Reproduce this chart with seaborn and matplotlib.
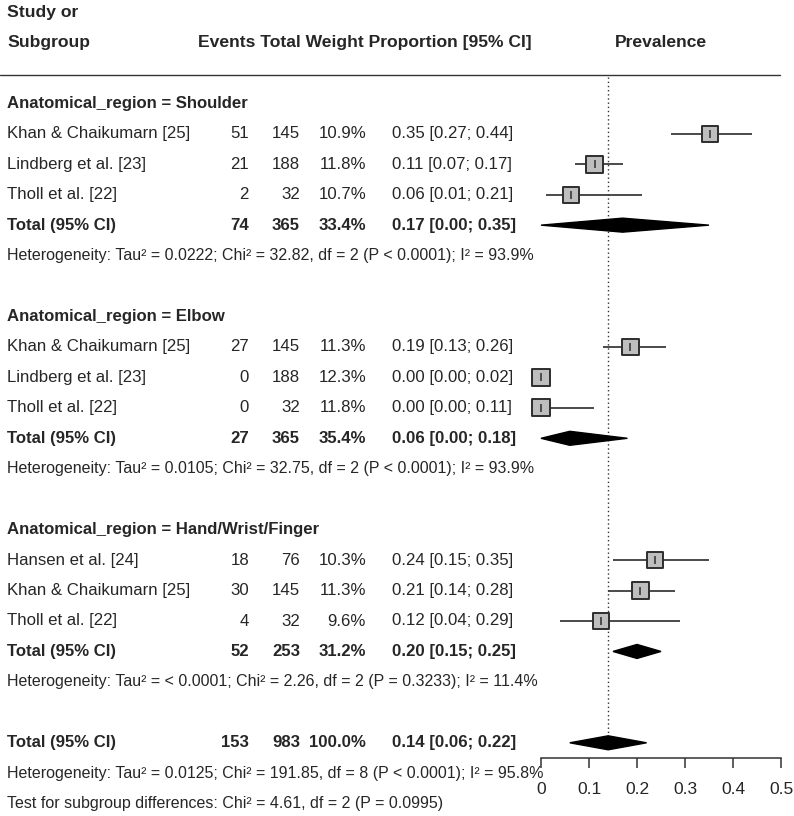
import numpy as np
import pandas as pd
import matplotlib
matplotlib.use("Agg")
import matplotlib.pyplot as plt
import matplotlib.transforms as mtransforms
from matplotlib.ticker import FuncFormatter
import seaborn as sns

# study level data
studyLabels = ["Khan & Chaikumarn [25]", "Lindberg et al. [23]", "Tholl et al. [22]",
               "Khan & Chaikumarn [25]", "Lindberg et al. [23]", "Tholl et al. [22]",
               "Hansen et al. [24]", "Khan & Chaikumarn [25]", "Tholl et al. [22]"]
studyGroup = [0, 0, 0, 1, 1, 1, 2, 2, 2]
events = [51, 21, 2, 27, 0, 0, 18, 30, 4]
totals = [145, 188, 32, 145, 188, 32, 76, 145, 32]
weights = [10.9, 11.8, 10.7, 11.3, 12.3, 11.8, 10.3, 11.3, 9.6]
proportion = [0.352, 0.112, 0.0625, 0.186, 0.0, 0.0, 0.237, 0.207, 0.125]
lowerCI = [0.27, 0.07, 0.01, 0.13, 0.00, 0.00, 0.15, 0.14, 0.04]
upperCI = [0.44, 0.17, 0.21, 0.26, 0.02, 0.11, 0.35, 0.28, 0.29]

# subgroup data
groupNames = ["Shoulder", "Elbow", "Hand/Wrist/Finger"]
groupEvents = [74, 27, 52]
groupTotals = [365, 365, 253]
groupWeights = [33.4, 35.4, 31.2]
groupEst = [0.17, 0.06, 0.20]
groupLower = [0.00, 0.00, 0.15]
groupUpper = [0.35, 0.18, 0.25]
groupTau2 = ["0.0222", "0.0105", "< 0.0001"]
groupChi2 = ["32.82", "32.75", "2.26"]
groupDf = [2, 2, 2]
groupP = ["< 0.0001", "< 0.0001", "= 0.3233"]
groupI2 = ["93.9", "93.9", "11.4"]

# overall
overallEvents = 153
overallTotal = 983
overallWeight = 100.0
overallEst = 0.14
overallLower = 0.06
overallUpper = 0.22
overallHet = "Heterogeneity: Tau² = 0.0125; Chi² = 191.85, df = 8 (P < 0.0001); I² = 95.8%"
subgroupTest = "Test for subgroup differences: Chi² = 4.61, df = 2 (P = 0.0995)"
axisTicks = [0, 0.1, 0.2, 0.3, 0.4, 0.5]

sns.set_style("white")
plt.rcParams['font.family'] = ['Liberation Sans', 'DejaVu Sans']

figW, figH = 794, 816
fig = plt.figure(figsize=(figW / 100, figH / 100), dpi=100)
ax = fig.add_axes([0, 0, 1, 1])

# layout: one text row = rowPx pixels, forest scale pxPerUnit pixels per unit
rowPx = 30.45
topPx = 12
zeroPx = 541
pxPerUnit = 480

# assign rows
studyRows = []
for g in range(3):
    base = 3 + 7 * g
    studyRows += [base + 1, base + 2, base + 3]
headingRows = [3 + 7 * g for g in range(3)]
totalRows = [h + 4 for h in headingRows]
hetRows = [h + 5 for h in headingRows]
overallRow = 24
axisRow = 24.5

trans = mtransforms.blended_transform_factory(ax.transAxes, ax.transData)
xName = 7 / figW
xEvents = 249 / figW
xTotal = 300 / figW
xWeight = 366 / figW
xProp = 392 / figW
mainSize = 12.1
headSize = 12.6
hetSize = 11.5

# header
ax.text(xName, 0, "Study or", transform=trans, fontsize=headSize, fontweight='bold', va='center')
ax.text(xName, 1, "Subgroup", transform=trans, fontsize=headSize, fontweight='bold', va='center')
ax.text(198 / figW, 1, "Events Total Weight Proportion [95% CI]", transform=trans,
        fontsize=headSize, fontweight='bold', va='center')
ax.text(0.25, 1, "Prevalence", fontsize=headSize, fontweight='bold', va='center', ha='center')
ax.axhline(2.07, xmin=0, xmax=780 / figW, color='#333333', lw=1)

# study rows text
for i, lab in enumerate(studyLabels):
    r = studyRows[i]
    ax.text(xName, r, lab, transform=trans, fontsize=mainSize, va='center')
    ax.text(xEvents, r, f"{events[i]}", transform=trans, fontsize=mainSize, va='center', ha='right')
    ax.text(xTotal, r, f"{totals[i]}", transform=trans, fontsize=mainSize, va='center', ha='right')
    ax.text(xWeight, r, f"{weights[i]:.1f}%", transform=trans, fontsize=mainSize, va='center', ha='right')
    ax.text(xProp, r, f"{proportion[i]:.2f} [{lowerCI[i]:.2f}; {upperCI[i]:.2f}]", transform=trans,
            fontsize=mainSize, va='center')

# subgroup text
for g, name in enumerate(groupNames):
    ax.text(xName, headingRows[g], f"Anatomical_region = {name}", transform=trans,
            fontsize=mainSize, fontweight='bold', va='center')
    r = totalRows[g]
    ax.text(xName, r, "Total (95% CI)", transform=trans, fontsize=mainSize, fontweight='bold', va='center')
    ax.text(xEvents, r, f"{groupEvents[g]}", transform=trans, fontsize=mainSize, fontweight='bold',
            va='center', ha='right')
    ax.text(xTotal, r, f"{groupTotals[g]}", transform=trans, fontsize=mainSize, fontweight='bold',
            va='center', ha='right')
    ax.text(xWeight, r, f"{groupWeights[g]:.1f}%", transform=trans, fontsize=mainSize, fontweight='bold',
            va='center', ha='right')
    ax.text(xProp, r, f"{groupEst[g]:.2f} [{groupLower[g]:.2f}; {groupUpper[g]:.2f}]", transform=trans,
            fontsize=mainSize, fontweight='bold', va='center')
    het = (f"Heterogeneity: Tau² = {groupTau2[g]}; Chi² = {groupChi2[g]}, df = {groupDf[g]} "
           f"(P {groupP[g]}); I² = {groupI2[g]}%")
    ax.text(xName, hetRows[g], het, transform=trans, fontsize=hetSize, va='center')

# overall text
ax.text(xName, overallRow, "Total (95% CI)", transform=trans, fontsize=mainSize, fontweight='bold', va='center')
ax.text(xEvents, overallRow, f"{overallEvents}", transform=trans, fontsize=mainSize, fontweight='bold',
        va='center', ha='right')
ax.text(xTotal, overallRow, f"{overallTotal}", transform=trans, fontsize=mainSize, fontweight='bold',
        va='center', ha='right')
ax.text(xWeight, overallRow, f"{overallWeight:.1f}%", transform=trans, fontsize=mainSize, fontweight='bold',
        va='center', ha='right')
ax.text(xProp, overallRow, f"{overallEst:.2f} [{overallLower:.2f}; {overallUpper:.2f}]", transform=trans,
        fontsize=mainSize, fontweight='bold', va='center')
ax.text(xName, overallRow + 1, overallHet, transform=trans, fontsize=hetSize, va='center')
ax.text(xName, overallRow + 2, subgroupTest, transform=trans, fontsize=hetSize, va='center')

# forest part
ax.vlines(overallEst, 2.15, 23.75, colors='#333333', linestyles=(0, (1, 2)), lw=1, zorder=1)
ax.hlines(studyRows, lowerCI, upperCI, colors='#3c3c3c', lw=1.3, zorder=2)

studyDf = pd.DataFrame({'prop': proportion, 'row': studyRows, 'weight': weights})
sns.scatterplot(data=studyDf, x='prop', y='row', size='weight', sizes=(0, 15 * 13), size_norm=(0, 15),
                marker='s', color='#bebebe', edgecolor='#2e2e2e', linewidth=1.4, legend=False,
                ax=ax, zorder=3, clip_on=False)
ax.scatter(proportion, studyRows, marker='|', s=30, color='#2e2e2e', linewidths=1.1, zorder=4)

diamondHalf = 0.23
for g in range(3):
    r = totalRows[g]
    ax.fill([groupLower[g], groupEst[g], groupUpper[g], groupEst[g]],
            [r, r - diamondHalf, r, r + diamondHalf], color='black', zorder=3)
ax.fill([overallLower, overallEst, overallUpper, overallEst],
        [overallRow, overallRow - diamondHalf, overallRow, overallRow + diamondHalf], color='black', zorder=3)

# axes setup
ax.set_xlim(-zeroPx / pxPerUnit, (figW - zeroPx) / pxPerUnit)
ax.set_ylim((figH - topPx) / rowPx, -topPx / rowPx)
ax.set_xlabel('')
ax.set_ylabel('')
ax.set_yticks([])
for side in ['top', 'left', 'right']:
    ax.spines[side].set_visible(False)
ax.spines['bottom'].set_position(('data', axisRow))
ax.spines['bottom'].set_bounds(0, 0.5)
ax.spines['bottom'].set_color('#333333')
ax.spines['bottom'].set_linewidth(1.1)
ax.set_xticks(axisTicks)
ax.xaxis.set_major_formatter(FuncFormatter(lambda v, p: f"{v:g}"))
ax.tick_params(axis='x', direction='out', length=7, width=1.1, color='#333333', pad=10,
               labelsize=12.5, bottom=True)
ax.set_facecolor('white')

fig.savefig('out.png', dpi=100)
